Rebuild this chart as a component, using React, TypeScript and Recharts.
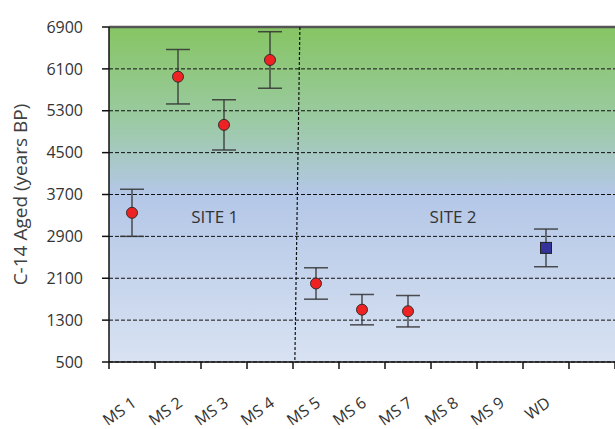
import {
  ScatterChart,
  Scatter,
  XAxis,
  YAxis,
  CartesianGrid,
  ErrorBar,
  ReferenceLine,
  ReferenceDot,
} from 'recharts'

const categories = ['MS 1', 'MS 2', 'MS 3', 'MS 4', 'MS 5', 'MS 6', 'MS 7', 'MS 8', 'MS 9', 'WD']
const slots = categories.length + 1

const yTicks = [500, 1300, 2100, 2900, 3700, 4500, 5300, 6100, 6900]

const msNames = ['MS 1', 'MS 2', 'MS 3', 'MS 4', 'MS 5', 'MS 6', 'MS 7']
const msAges = [3350, 5950, 5030, 6270, 2000, 1500, 1470]
const msErr = [450, 520, 480, 540, 300, 290, 300]

const wdNames = ['WD']
const wdAges = [2680]
const wdErr = [360]

// site divider runs slightly slanted between MS 4 and MS 5
const dividerTop = 4.15
const dividerBottom = 4.04

const siteLabels = [
  { text: 'SITE 1', x: 2.3, y: 3280 },
  { text: 'SITE 2', x: 7.48, y: 3280 },
]

const toPoints = (names: string[], ages: number[], errs: number[]) =>
  names.map((n, i) => ({ x: categories.indexOf(n) + 0.5, age: ages[i], err: errs[i] }))

const msData = toPoints(msNames, msAges, msErr)
const wdData = toPoints(wdNames, wdAges, wdErr)

const boundaryTicks = Array.from({ length: slots + 1 }, (_, i) => i)
const labelTicks = categories.map((_, i) => i + 0.5)

const font = '"Open Sans", sans-serif'

const RedDot = (p: any) => (
  <circle cx={p.cx} cy={p.cy} r={5.5} fill="#ee2222" stroke="#3a2a2a" strokeWidth={1} />
)

const BlueSquare = (p: any) => (
  <rect x={p.cx - 5.5} y={p.cy - 5.5} width={11} height={11} fill="#33339a" stroke="#222" strokeWidth={1} />
)

export default function App() {
  return (
    <div style={{ position: 'absolute', left: 0, top: 0, fontFamily: font }}>
      <ScatterChart width={615} height={429} margin={{ top: 27, right: 0, bottom: 0, left: 0 }}>
        <defs>
          <linearGradient id="bg" x1="0" y1="0" x2="0" y2="1">
            <stop offset="0%" stopColor="#86c563" />
            <stop offset="28%" stopColor="#9bcaa3" />
            <stop offset="50%" stopColor="#b4c7e7" />
            <stop offset="100%" stopColor="#d8e2f2" />
          </linearGradient>
        </defs>
        <CartesianGrid
          xAxisId="axis"
          vertical={false}
          fill="url(#bg)"
          fillOpacity={1}
          stroke="#111"
          strokeDasharray="4 2"
        />
        <XAxis
          xAxisId="axis"
          type="number"
          dataKey="x"
          domain={[0, slots]}
          ticks={boundaryTicks}
          interval={0}
          height={8}
          tickSize={7}
          tickFormatter={() => ''}
          tickLine={{ stroke: '#111', strokeWidth: 1.5 }}
          axisLine={{ stroke: '#111', strokeWidth: 1.5 }}
        />
        <XAxis
          xAxisId="names"
          type="number"
          dataKey="x"
          domain={[0, slots]}
          ticks={labelTicks}
          interval={0}
          height={59}
          axisLine={false}
          tickLine={false}
          tickMargin={20}
          tickFormatter={(v: number) => categories[Math.floor(v)]}
          tick={{ angle: -35, textAnchor: 'end', fontSize: 16, fill: '#333', fontFamily: font, dx: -1 }}
        />
        <YAxis
          type="number"
          dataKey="age"
          domain={[500, 6900]}
          ticks={yTicks}
          interval={0}
          width={109}
          tickSize={7}
          tickMargin={19}
          tick={{ fontSize: 16, fill: '#333', fontFamily: font }}
          tickLine={{ stroke: '#111', strokeWidth: 1.5 }}
          axisLine={{ stroke: '#111', strokeWidth: 1.5 }}
          label={{
            value: 'C-14 Aged (years BP)',
            angle: -90,
            position: 'insideLeft',
            offset: 20,
            style: { textAnchor: 'middle', fontSize: 19, fill: '#404040', fontFamily: font },
          }}
        />
        <ReferenceLine xAxisId="axis" y={6900} stroke="#555" strokeWidth={2.5} />
        <ReferenceLine
          xAxisId="axis"
          segment={[
            { x: dividerTop, y: 6900 },
            { x: dividerBottom, y: 500 },
          ]}
          stroke="#111"
          strokeWidth={1.2}
          strokeDasharray="3 2"
        />
        {siteLabels.map(s => (
          <ReferenceDot
            key={s.text}
            xAxisId="axis"
            x={s.x}
            y={s.y}
            r={0}
            fill="none"
            stroke="none"
            label={{ value: s.text, position: 'center', fontSize: 17, fill: '#333', fontFamily: font }}
          />
        ))}
        <Scatter xAxisId="names" data={msData} shape={RedDot} isAnimationActive={false}>
          <ErrorBar dataKey="err" direction="y" width={12} stroke="#333" strokeOpacity={0.85} strokeWidth={1.5} />
        </Scatter>
        <Scatter xAxisId="axis" data={wdData} shape={BlueSquare} isAnimationActive={false}>
          <ErrorBar dataKey="err" direction="y" width={12} stroke="#333" strokeOpacity={0.85} strokeWidth={1.5} />
        </Scatter>
      </ScatterChart>
    </div>
  )
}
